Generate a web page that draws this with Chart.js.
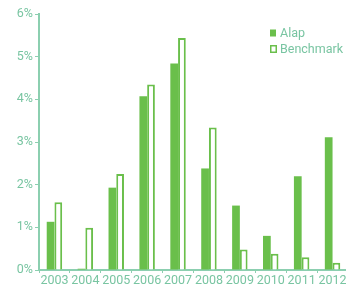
<!DOCTYPE html>
<html>
<head>
<meta charset="utf-8">
<script src="https://cdn.jsdelivr.net/npm/chart.js@4/dist/chart.umd.min.js"></script>
<style>
  html, body { margin: 0; padding: 0; background: #fff; overflow: hidden; }
  #wrap { position: relative; width: 348px; height: 285px; }
</style>
</head>
<body>
<div id="wrap"><canvas id="returnsChart" width="348" height="285"></canvas></div>
<script>
const years = ['2003', '2004', '2005', '2006', '2007', '2008', '2009', '2010', '2011', '2012'];
const alap = [1.13, 0.03, 1.93, 4.07, 4.84, 2.38, 1.51, 0.80, 2.20, 3.11];
const benchmark = [1.59, 0.99, 2.25, 4.35, 5.44, 3.34, 0.48, 0.38, 0.30, 0.17];
const yTicks = [0, 1, 2, 3, 4, 5, 6];

const green = '#6abf4b';
const textColor = '#79c5a2';
const axisColor = '#8ccfb0';
const font = { family: 'Roboto, sans-serif', size: 12.5 };

// legend drawn in the upper right of the plot, one item per line
const sideLegend = {
  id: 'sideLegend',
  afterDraw(chart) {
    const ctx = chart.ctx;
    ctx.save();
    ctx.font = font.size + 'px ' + font.family;
    ctx.textBaseline = 'middle';
    chart.data.datasets.forEach((ds, i) => {
      const y = 33 + i * 16;
      if (i === 0) {
        ctx.fillStyle = ds.backgroundColor;
        ctx.fillRect(270, y - 3.5, 6, 7);
      } else {
        ctx.strokeStyle = ds.borderColor;
        ctx.lineWidth = 1.5;
        ctx.strokeRect(270.75, y - 3.25, 5.5, 6.5);
      }
      ctx.fillStyle = textColor;
      ctx.fillText(ds.label, 280, y + 1);
    });
    ctx.restore();
  }
};

new Chart(document.getElementById('returnsChart'), {
  type: 'bar',
  data: {
    labels: years,
    datasets: [{
      label: 'Alap',
      data: alap,
      backgroundColor: green,
      borderWidth: 0
    }, {
      label: 'Benchmark',
      data: benchmark,
      backgroundColor: '#ffffff',
      borderColor: green,
      borderWidth: 2
    }]
  },
  options: {
    responsive: false,
    animation: false,
    datasets: { bar: { categoryPercentage: 0.5, barPercentage: 1 } },
    layout: { padding: { top: 14, right: 0, left: 0, bottom: 0 } },
    plugins: { legend: { display: false }, tooltip: { enabled: false } },
    scales: {
      x: {
        grid: { display: true, drawOnChartArea: false, drawTicks: true, tickLength: 3, color: axisColor, offset: true },
        border: { color: axisColor, width: 2 },
        ticks: { color: textColor, font: font, padding: 0, maxRotation: 0, autoSkip: false },
        afterFit(scale) { scale.height = 15; }
      },
      y: {
        min: 0,
        max: 6,
        afterBuildTicks(scale) { scale.ticks = yTicks.map(v => ({ value: v })); },
        grid: { display: true, drawOnChartArea: false, drawTicks: true, tickLength: 4, color: axisColor },
        border: { color: axisColor, width: 2 },
        ticks: { color: textColor, font: font, padding: 2, callback: v => v + '%' },
        afterFit(scale) { scale.width = 39; }
      }
    }
  },
  plugins: [sideLegend]
});
</script>
</body>
</html>
